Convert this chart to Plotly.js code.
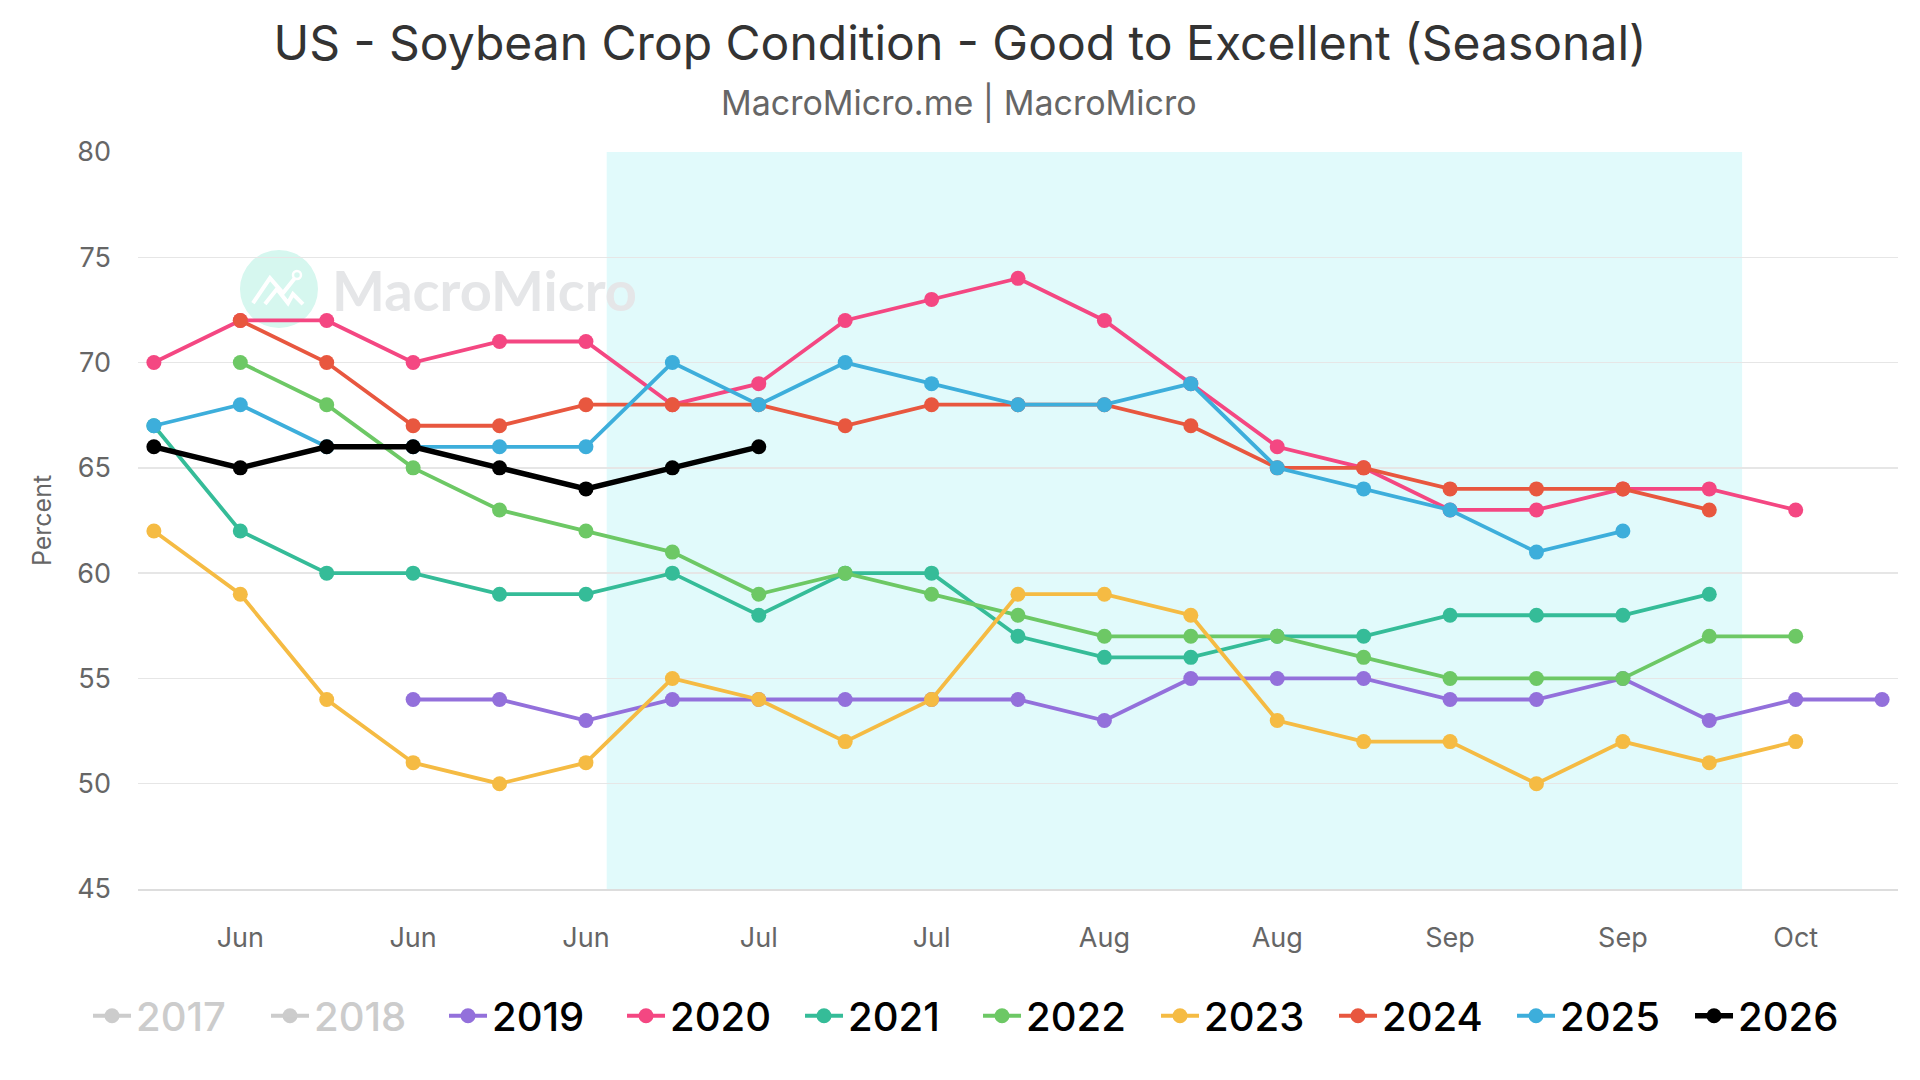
<!DOCTYPE html>
<html>
<head>
<meta charset="utf-8">
<script src="https://cdn.plot.ly/plotly-3.0.1.min.js"></script>
<style>
  html, body { margin: 0; padding: 0; background: #fff; }
  #chart { width: 1920px; height: 1080px; }
</style>
</head>
<body>
<div id="chart"></div>
<script>
// week slots of the season (x positions), and the labelled ticks
var weeks = [0, 1, 2, 3, 4, 5, 6, 7, 8, 9, 10, 11, 12, 13, 14, 15, 16, 17, 18, 19, 20];
var tickWeeks = [1, 3, 5, 7, 9, 11, 13, 15, 17, 19];
var tickLabels = ["Jun", "Jun", "Jun", "Jul", "Jul", "Aug", "Aug", "Sep", "Sep", "Oct"];

// percent good to excellent, by year (null = no report that week)
// 2017 and 2018 are switched off in the legend, nothing of them is drawn
var years = ["2017", "2018", "2019", "2020", "2021", "2022", "2023", "2024", "2025", "2026"];
var y2017 = [null];
var y2018 = [null];
var y2019 = [null, null, null, 54, 54, 53, 54, 54, 54, 54, 54, 53, 55, 55, 55, 54, 54, 55, 53, 54, 54];
var y2020 = [70, 72, 72, 70, 71, 71, 68, 69, 72, 73, 74, 72, 69, 66, 65, 63, 63, 64, 64, 63];
var y2021 = [67, 62, 60, 60, 59, 59, 60, 58, 60, 60, 57, 56, 56, 57, 57, 58, 58, 58, 59];
var y2022 = [null, 70, 68, 65, 63, 62, 61, 59, 60, 59, 58, 57, 57, 57, 56, 55, 55, 55, 57, 57];
var y2023 = [62, 59, 54, 51, 50, 51, 55, 54, 52, 54, 59, 59, 58, 53, 52, 52, 50, 52, 51, 52];
var y2024 = [null, 72, 70, 67, 67, 68, 68, 68, 67, 68, 68, 68, 67, 65, 65, 64, 64, 64, 63];
var y2025 = [67, 68, 66, 66, 66, 66, 70, 68, 70, 69, 68, 68, 69, 65, 64, 63, 61, 62];
var y2026 = [66, 65, 66, 66, 65, 64, 65, 66];

var values = [y2017, y2018, y2019, y2020, y2021, y2022, y2023, y2024, y2025, y2026];
var colors = ["#999999", "#999999", "#9370db", "#f44782", "#35bc98", "#6dc865", "#f5bb43", "#e8573f", "#3daedb", "#000000"];
var hidden = [true, true, false, false, false, false, false, false, false, false];

// growing season band (in week slots)
var seasonStart = 5.24, seasonEnd = 18.38;

var font = "Inter, 'Liberation Sans', Arial, sans-serif";

var data = [];
for (let i = 0; i < years.length; i++) {
    var last = i == years.length - 1;
    data.push({
        type: "scatter",
        mode: "lines+markers",
        name: hidden[i] ? '<span style="color:#999999">' + years[i] + '</span>' : years[i],
        x: weeks.slice(0, values[i].length),
        y: values[i],
        visible: hidden[i] ? "legendonly" : true,
        line: {color: colors[i], width: last ? 5.5 : 3.8},
        marker: {color: colors[i], size: 15},
        hoverinfo: "x+y+name"
    });
}

var layout = {
    width: 1920,
    height: 1080,
    margin: {l: 138, r: 22, t: 152, b: 191},
    paper_bgcolor: "#ffffff",
    plot_bgcolor: "#ffffff",
    font: {family: font, color: "#666666"},
    title: {
        text: "US - Soybean Crop Condition - Good to Excellent (Seasonal)",
        font: {size: 48, color: "#333333", family: font},
        x: 0.5, xref: "container", xanchor: "center",
        y: 0.96, yref: "container", yanchor: "middle"
    },
    xaxis: {
        range: [-0.184, 20.184],
        tickmode: "array",
        tickvals: tickWeeks,
        ticktext: tickLabels,
        showgrid: false,
        zeroline: false,
        showline: true,
        linecolor: "#dddddd",
        linewidth: 1.5,
        ticks: "",
        ticklabelstandoff: 24,
        tickfont: {size: 27, color: "#666666"}
    },
    yaxis: {
        range: [45, 80],
        dtick: 5,
        gridcolor: "#e6e6e6",
        gridwidth: 1.5,
        zeroline: false,
        ticks: "",
        ticklabelstandoff: 26,
        tickfont: {size: 27, color: "#666666"},
        title: {text: "Percent", font: {size: 25, color: "#666666"}, standoff: 18}
    },
    legend: {
        orientation: "h",
        xref: "paper", x: -0.0284, xanchor: "left",
        yref: "paper", y: -0.172, yanchor: "middle",
        font: {size: 40, color: "#000000", family: font, weight: 500},
        itemwidth: 38,
        entrywidthmode: "pixels",
        entrywidth: 125,
        bgcolor: "rgba(0,0,0,0)"
    },
    shapes: [
        {
            type: "rect", layer: "below",
            xref: "x", yref: "paper",
            x0: seasonStart, x1: seasonEnd, y0: 0, y1: 1,
            fillcolor: "#e1fafb", line: {width: 0}
        },
        // watermark logo
        {
            type: "circle", layer: "below",
            xref: "paper", yref: "paper",
            xsizemode: "pixel", ysizemode: "pixel",
            xanchor: 0.0801, yanchor: 0.814,
            x0: -39, x1: 39, y0: -39, y1: 39,
            fillcolor: "#d6f7ef", line: {width: 0}
        },
        {
            type: "path", layer: "below",
            xref: "paper", yref: "paper",
            xsizemode: "pixel", ysizemode: "pixel",
            xanchor: 0.0801, yanchor: 0.814,
            path: "M-26,-14 L-9,11 L4,-4 L16,11 M-14,-15 L-2,0 L9,-14 L14,-5 L24,-15",
            line: {color: "#ffffff", width: 4}
        },
        {
            type: "circle", layer: "below",
            xref: "paper", yref: "paper",
            xsizemode: "pixel", ysizemode: "pixel",
            xanchor: 0.0801, yanchor: 0.814,
            x0: 14, x1: 22, y0: 10, y1: 18,
            fillcolor: "#d6f7ef", line: {color: "#ffffff", width: 2.5}
        }
    ],
    annotations: [
        {
            text: "MacroMicro.me | MacroMicro",
            xref: "paper", yref: "paper",
            x: 0.4665, y: 1.0678, xanchor: "center", yanchor: "middle",
            showarrow: false,
            font: {size: 34, color: "#666666", family: font}
        },
        {
            text: "<b>MacroMicro</b>",
            xref: "paper", yref: "paper",
            x: 0.109, y: 0.814, xanchor: "left", yanchor: "middle",
            showarrow: false,
            font: {size: 56, color: "#e5e6e8", family: "Lato, Inter, sans-serif"}
        }
    ],
    showlegend: true
};

Plotly.newPlot("chart", data, layout, {displayModeBar: false, staticPlot: true});
</script>
</body>
</html>
